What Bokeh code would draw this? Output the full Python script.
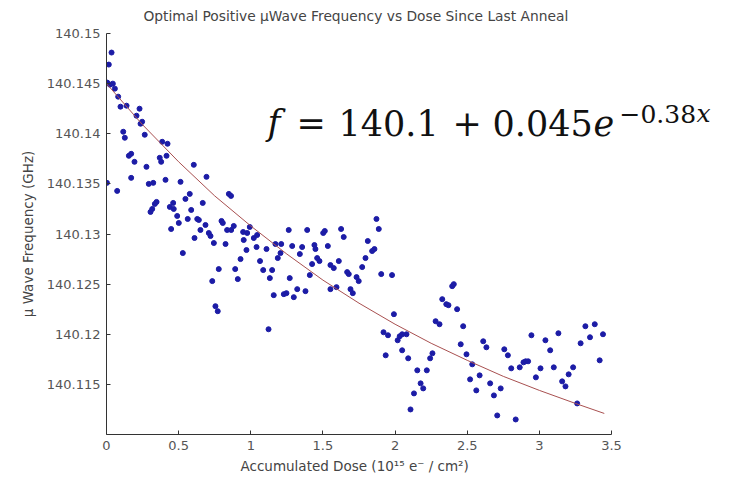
from bokeh.plotting import figure
from bokeh.models import FixedTicker, Label, Range1d, ColumnDataSource, Title
from bokeh.embed import file_html
from bokeh.resources import INLINE

title_text = "Optimal Positive \u00b5Wave Frequency vs Dose Since Last Anneal"
x_label = "Accumulated Dose (10\u00b9\u2075 e\u207b / cm\u00b2)"
y_label = "\u00b5 Wave Frequency (GHz)"

x_ticks = [0, 0.5, 1, 1.5, 2, 2.5, 3, 3.5]
x_tick_labels = ["0", "0.5", "1", "1.5", "2", "2.5", "3", "3.5"]
y_ticks = [140.115, 140.12, 140.125, 140.13, 140.135, 140.14, 140.145, 140.15]
y_tick_labels = ["140.115", "140.12", "140.125", "140.13", "140.135", "140.14", "140.145", "140.15"]

# measured points: accumulated dose (1e15 e-/cm^2)
dose = [
    0.035, 0.016, 0.005, 0.024, 0.044, 0.058, 0.081, 0.097, 0.139, 0.229,
    0.208, 0.247, 0.236, 0.265, 0.116, 0.127, 0.386, 0.423, 0.171, 0.155,
    0.194, 0.369, 0.379, 0.416, 0.277, 0.605, 0.171, 0.293, 0.324, 0.409,
    0.513, 0.693, 0.074, 0.848, 0.863, 0.347, 0.335, 0.317, 0.305, 0.577,
    0.462, 0.439, 0.466, 0.547, 0.667, 0.587, 0.490, 0.563, 0.629, 0.640,
    0.501, 0.686, 0.797, 0.806, 0.448, 0.651, 0.709, 0.721, 0.836, 0.864,
    0.882, 0.610, 0.744, 0.825, 0.947, 0.975, 0.993, 0.951, 1.021, 1.044,
    1.040, 0.003, 0.529, 0.929, 0.970, 1.064, 0.778, 0.892, 0.910, 0.733,
    1.263, 1.391, 1.502, 1.513, 1.626, 1.644, 1.871, 1.887, 1.171, 1.211,
    1.109, 1.287, 1.356, 1.441, 1.448, 1.534, 1.206, 1.340, 1.187, 1.460,
    1.476, 1.610, 1.425, 1.552, 1.575, 1.811, 1.841, 1.857, 1.795, 1.772,
    1.086, 1.148, 1.132, 1.270, 1.409, 1.668, 1.679, 1.733, 1.748, 1.552,
    1.594, 1.322, 1.379, 1.298, 1.159, 1.229, 1.247, 1.691, 1.707, 1.123,
    0.755, 0.771, 1.904, 1.979, 1.992, 2.396, 2.407, 2.327, 2.355, 2.370,
    2.430, 2.281, 2.308, 2.472, 1.920, 1.951, 2.018, 2.032, 2.049, 2.079,
    1.935, 2.049, 2.091, 2.243, 2.259, 2.154, 2.220, 2.177, 2.195, 2.131,
    2.107, 2.455, 2.495, 2.535, 2.586, 2.520, 2.563, 2.611, 2.633, 2.659,
    2.685, 2.732, 2.708, 2.757, 2.782, 2.805, 2.836, 2.864, 2.890, 2.905,
    2.922, 2.945, 2.976, 3.008, 3.042, 3.075, 3.100, 3.132, 3.158, 3.181,
    3.203, 3.234, 3.262, 3.286, 3.319, 3.351, 3.384, 3.418, 3.441,
]

# measured points: optimal frequency (GHz)
freq = [
    140.1481, 140.1469, 140.1451, 140.1449, 140.1450, 140.1445, 140.1437, 140.1427, 140.1428, 140.1425,
    140.1418, 140.1412, 140.1410, 140.1399, 140.1402, 140.1396, 140.1392, 140.1390, 140.1380, 140.1378,
    140.1372, 140.1376, 140.1372, 140.1378, 140.1367, 140.1369, 140.1356, 140.1350, 140.1351, 140.1354,
    140.1352, 140.1357, 140.1343, 140.1340, 140.1338, 140.1332, 140.1330, 140.1325, 140.1322, 140.1340,
    140.1331, 140.1327, 140.1325, 140.1335, 140.1331, 140.1324, 140.1318, 140.1315, 140.1315, 140.1314,
    140.1311, 140.1309, 140.1313, 140.1311, 140.1305, 140.1304, 140.1301, 140.1298, 140.1304, 140.1304,
    140.1308, 140.1296, 140.1291, 140.1290, 140.1302, 140.1301, 140.1307, 140.1294, 140.1296, 140.1299,
    140.1287, 140.1351, 140.1281, 140.1275, 140.1284, 140.1273, 140.1265, 140.1265, 140.1255, 140.1253,
    140.1304, 140.1304, 140.1301, 140.1303, 140.1305, 140.1297, 140.1315, 140.1305, 140.1290, 140.1290,
    140.1285, 140.1288, 140.1287, 140.1289, 140.1285, 140.1288, 140.1281, 140.1280, 140.1276, 140.1276,
    140.1273, 140.1273, 140.1270, 140.1269, 140.1266, 140.1293, 140.1283, 140.1285, 140.1276, 140.1267,
    140.1264, 140.1264, 140.1256, 140.1256, 140.1259, 140.1262, 140.1260, 140.1257, 140.1253, 140.1245,
    140.1247, 140.1245, 140.1243, 140.1237, 140.1239, 140.1240, 140.1241, 140.1245, 140.1241, 140.1205,
    140.1228, 140.1223, 140.1260, 140.1259, 140.1220, 140.1248, 140.1250, 140.1235, 140.1230, 140.1229,
    140.1225, 140.1213, 140.1210, 140.1208, 140.1202, 140.1199, 140.1194, 140.1198, 140.1200, 140.1200,
    140.1179, 140.1184, 140.1176, 140.1176, 140.1181, 140.1164, 140.1164, 140.1151, 140.1146, 140.1141,
    140.1125, 140.1190, 140.1180, 140.1170, 140.1159, 140.1155, 140.1144, 140.1193, 140.1187, 140.1151,
    140.1139, 140.1146, 140.1119, 140.1185, 140.1179, 140.1166, 140.1115, 140.1167, 140.1172, 140.1173,
    140.1173, 140.1199, 140.1157, 140.1166, 140.1194, 140.1184, 140.1167, 140.1201, 140.1153, 140.1148,
    140.1160, 140.1167, 140.1131, 140.1191, 140.1208, 140.1197, 140.1210, 140.1174, 140.1200,
]

# fitted curve f = 140.1 + 0.045 e^(-0.38 x)
fit_dose = [0.0, 0.25, 0.5, 0.75, 1.0, 1.25, 1.5, 1.75, 2.0, 2.25, 2.5, 2.75, 3.0, 3.25, 3.45]
fit_freq = [140.1450, 140.1409, 140.1372, 140.1338, 140.1308, 140.1280, 140.1254, 140.1231,
            140.1210, 140.1191, 140.1174, 140.1158, 140.1144, 140.1131, 140.1121]

W, H = 733, 482
left, right, top, bottom = 106, 122, 33, 48
x_end = 3.5 * (W - left) / (W - left - right)

p = figure(width=W, height=H, output_backend="svg", toolbar_location=None,
           x_range=Range1d(0, x_end), y_range=Range1d(140.11, 140.15),
           min_border_left=left, min_border_right=0, min_border_top=top, min_border_bottom=bottom)

p.title.text = title_text
p.title.align = "left"
p.title.offset = 37
p.title.vertical_align = "top"
p.title.text_font = "DejaVu Sans"
p.title.text_font_size = "13.8px"
p.title.text_font_style = "normal"
p.title.text_color = "#444444"
p.title.standoff = 15

p.xgrid.visible = False
p.ygrid.visible = False
p.outline_line_color = None
p.background_fill_color = "white"
p.border_fill_color = "white"

for ax in (p.xaxis[0], p.yaxis[0]):
    ax.axis_line_color = "#333333"
    ax.major_tick_line_color = "#333333"
    ax.major_tick_in = 4
    ax.major_tick_out = 0
    ax.minor_tick_line_color = None
    ax.major_label_text_font = "DejaVu Sans"
    ax.major_label_text_font_size = "13px"
    ax.major_label_text_color = "#555555"
    ax.axis_label_text_font = "DejaVu Sans"
    ax.axis_label_text_font_size = "13.5px"
    ax.axis_label_text_font_style = "normal"
    ax.axis_label_text_color = "#444444"

p.xaxis.bounds = (0, 3.5)
p.xaxis.ticker = FixedTicker(ticks=x_ticks)
p.xaxis.major_label_overrides = dict(zip(x_ticks, x_tick_labels))
p.yaxis.ticker = FixedTicker(ticks=y_ticks)
p.yaxis.major_label_overrides = dict(zip(y_ticks, y_tick_labels))
p.yaxis.axis_label = y_label
p.xaxis.major_label_standoff = 6
p.yaxis.major_label_standoff = 6
p.yaxis.axis_label_standoff = 8

# x-axis label centred under the 0..3.5 part of the axis
xlab = Title(text=x_label, align="left", offset=134, text_font="DejaVu Sans",
             text_font_size="13.5px", text_font_style="normal", text_color="#444444",
             standoff=6)
p.add_layout(xlab, "below")

src = ColumnDataSource(dict(x=dose, y=freq))
p.scatter("x", "y", source=src, size=5, marker="circle", fill_color="#1c1ca6", line_color="#1c1ca6")
p.line(fit_dose, fit_freq, line_color="#a85050", line_width=1)

# formula annotation, pieces placed in screen units relative to the frame
base_y = 312
sup_y = 321
serif = "DejaVu Serif"
pieces = [
    ("f", 161, base_y, "35px", "italic"),
    ("=", 190, base_y, "35px", "normal"),
    ("140.1", 232, base_y, "35px", "normal"),
    ("+", 346, base_y, "35px", "normal"),
    ("0.045", 386, base_y, "35px", "normal"),
    ("e", 487, base_y, "35px", "italic"),
    ("\u22120.38", 513, sup_y, "25px", "normal"),
    ("x", 590, sup_y, "25px", "italic"),
]
for txt, sx, sy, fs, style in pieces:
    p.add_layout(Label(x=sx, y=sy, x_units="screen", y_units="screen", text=txt,
                       text_font=serif, text_font_size=fs, text_font_style=style,
                       text_color="#111111", text_baseline="alphabetic", text_align="left"))

open("out.html", "w").write(file_html(p, INLINE))
